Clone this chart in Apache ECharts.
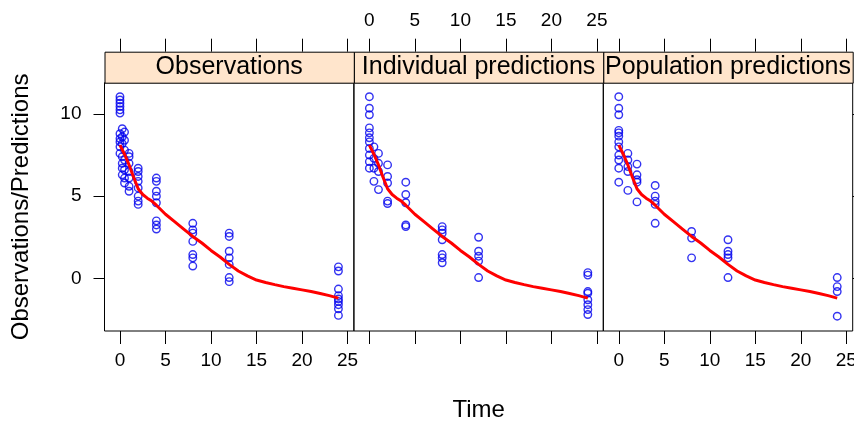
<!DOCTYPE html>
<html>
<head>
<meta charset="utf-8">
<script src="https://cdn.jsdelivr.net/npm/echarts@6/dist/echarts.min.js"></script>
<style>
html,body{margin:0;padding:0;background:#fff;}
#chart{width:854px;height:428px;}
</style>
</head>
<body>
<div id="chart"></div>
<script>
// ---- data ----
const panelNames = ['Observations', 'Individual predictions', 'Population predictions'];
const sampleTimes = [0, 0.25, 0.5, 1, 2, 4, 8, 12, 24];
const obsValues = [
  [11.05, 10.85, 10.65, 10.45, 10.25, 10.05, 8.8, 8.5, 8.3, 8.0, 7.6],
  [9.1, 8.6, 8.2, 7.4, 7.0, 6.7, 6.3],
  [8.9, 8.4, 7.8, 7.2, 6.6, 6.1, 5.8],
  [7.6, 7.4, 7.0, 6.5, 6.1, 5.6, 5.3],
  [6.7, 6.5, 6.2, 5.9, 5.5, 5.0, 4.7, 4.5],
  [6.1, 5.9, 5.3, 5.0, 4.6, 3.5, 3.25, 3.0],
  [3.35, 2.95, 2.75, 2.25, 1.45, 1.25, 0.75],
  [2.75, 2.55, 1.65, 1.25, 0.85, 0.05, -0.2],
  [0.7, 0.45, -0.65, -1.05, -1.25, -1.4, -1.6, -1.85, -2.25]
];
const ipredValues = [
  [11.05, 10.35, 9.95, 9.15, 8.85, 8.55, 8.3, 7.9, 7.5, 7.1, 6.7],
  [],
  [8.0, 7.3, 6.7, 5.9],
  [7.6, 7.0, 6.5, 5.4],
  [6.9, 6.2, 5.8, 4.7, 4.55],
  [5.85, 5.1, 4.6, 3.25, 3.15],
  [3.15, 2.95, 2.75, 2.35, 1.45, 1.25, 0.95],
  [2.5, 1.65, 1.35, 1.05, 0.05],
  [0.35, 0.2, -0.8, -0.9, -1.3, -1.6, -1.9, -2.2]
];
const predValues = [
  [11.05, 10.35, 9.95, 9.0, 8.85, 8.65, 8.3, 8.0, 7.5, 7.2, 6.7, 5.85],
  [],
  [],
  [7.6, 7.2, 6.8, 6.5, 5.35],
  [6.95, 6.3, 6.0, 5.85, 4.65],
  [5.65, 5.0, 4.7, 4.5, 3.35],
  [2.85, 2.45, 1.25],
  [2.35, 1.65, 1.45, 1.25, 0.05],
  [0.05, -0.5, -0.8, -2.3]
];
const smoothTime  = [0, 0.5, 1, 1.5, 2, 2.5, 3, 3.5, 4, 5, 6, 7, 8, 9, 10, 11, 12, 13, 14, 15, 16, 17, 18, 19, 20, 21, 22, 23, 24];
const smoothValue = [8.1, 7.55, 6.9, 6.15, 5.45, 5.1, 4.88, 4.7, 4.45, 3.9, 3.45, 3.0, 2.55, 2.15, 1.7, 1.3, 0.85, 0.45, 0.15, -0.1, -0.25, -0.38, -0.5, -0.6, -0.7, -0.8, -0.92, -1.05, -1.2];
const xTicks = [0, 5, 10, 15, 20, 25];
const yTicks = [0, 5, 10];

// ---- build ----
const panelData = [obsValues, ipredValues, predValues];
const gLeft = 104.5, gTop = 82.7, gW = 249.4, gH = 248.3, stripH = 31;
const FONT = '"Liberation Sans", Arial, sans-serif';
const grids = [], xAxes = [], yAxes = [], series = [], graphics = [];

function pairs(groups) {
  const out = [];
  groups.forEach((g, i) => g.forEach(v => out.push([sampleTimes[i], v])));
  return out;
}
const smoothPairs = smoothTime.map((t, i) => [t, smoothValue[i]]);

for (let p = 0; p < 3; p++) {
  const left = gLeft + p * gW;
  grids.push({
    left: left, top: gTop, width: gW, height: gH,
    show: true, borderColor: '#000', borderWidth: 1, backgroundColor: 'transparent',
    containLabel: false, outerBoundsMode: 'none'
  });
  const baseX = {
    type: 'value', gridIndex: p, min: -1.7, max: 25.7,
    splitLine: { show: false }, axisLine: { show: false, onZero: false },
    axisTick: { show: true, length: 13, customValues: xTicks, lineStyle: { color: '#000', width: 1 } },
    axisLabel: { customValues: xTicks, fontSize: 19, fontFamily: FONT, color: '#000', margin: 20 }
  };
  // bottom axis
  xAxes.push(Object.assign({}, baseX, {
    position: 'bottom',
    axisLabel: Object.assign({}, baseX.axisLabel, { show: p !== 1 }),
    name: p === 1 ? 'Time' : '', nameLocation: 'middle', nameGap: 67,
    nameTextStyle: { fontSize: 24, fontFamily: FONT, color: '#000' }
  }));
  // top axis (above strip)
  xAxes.push(Object.assign({}, baseX, {
    position: 'top', offset: stripH,
    axisLabel: Object.assign({}, baseX.axisLabel, { show: p === 1, margin: 21 })
  }));
  const baseY = {
    type: 'value', gridIndex: p, min: -3.2, max: 11.9,
    splitLine: { show: false }, axisLine: { show: false, onZero: false }
  };
  yAxes.push(Object.assign({}, baseY, {
    position: 'left',
    axisTick: { show: p === 0, length: 11, customValues: yTicks, lineStyle: { color: '#000' } },
    axisLabel: { show: p === 0, customValues: yTicks, fontSize: 19, fontFamily: FONT, color: '#000', margin: 23 },
    name: p === 0 ? 'Observations/Predictions' : '', nameLocation: 'middle', nameGap: 71,
    nameRotate: 90,
    nameTextStyle: { fontSize: 24, fontFamily: FONT, color: '#000' }
  }));
  yAxes.push(Object.assign({}, baseY, {
    position: 'right',
    axisTick: { show: p === 2, length: 11, customValues: yTicks, lineStyle: { color: '#000' } },
    axisLabel: { show: false }
  }));
  series.push({
    type: 'scatter', xAxisIndex: 2 * p, yAxisIndex: 2 * p,
    data: pairs(panelData[p]), symbol: 'circle', symbolSize: 7.5,
    itemStyle: { color: 'transparent', borderColor: '#0000ee', borderWidth: 1.4 },
    silent: true, z: 2
  });
  series.push({
    type: 'line', xAxisIndex: 2 * p, yAxisIndex: 2 * p,
    data: smoothPairs, showSymbol: false, smooth: false,
    lineStyle: { color: '#ff0000', width: 3 }, silent: true, z: 3
  });
  graphics.push({
    type: 'rect', left: left, top: gTop - stripH, silent: true,
    shape: { width: gW, height: stripH },
    style: { fill: '#ffe5cc', stroke: '#000', lineWidth: 1 }, z: 10
  });
  graphics.push({
    type: 'text', silent: true, z: 11,
    x: left + gW / 2, y: gTop - stripH / 2,
    style: { text: panelNames[p], fontSize: 25, fontFamily: FONT, fill: '#000',
             align: 'center', verticalAlign: 'middle' }
  });
}

const chart = echarts.init(document.getElementById('chart'), null, { renderer: 'canvas' });
chart.setOption({
  animation: false,
  backgroundColor: '#fff',
  grid: grids, xAxis: xAxes, yAxis: yAxes, series: series,
  graphic: graphics
});
</script>
</body>
</html>
